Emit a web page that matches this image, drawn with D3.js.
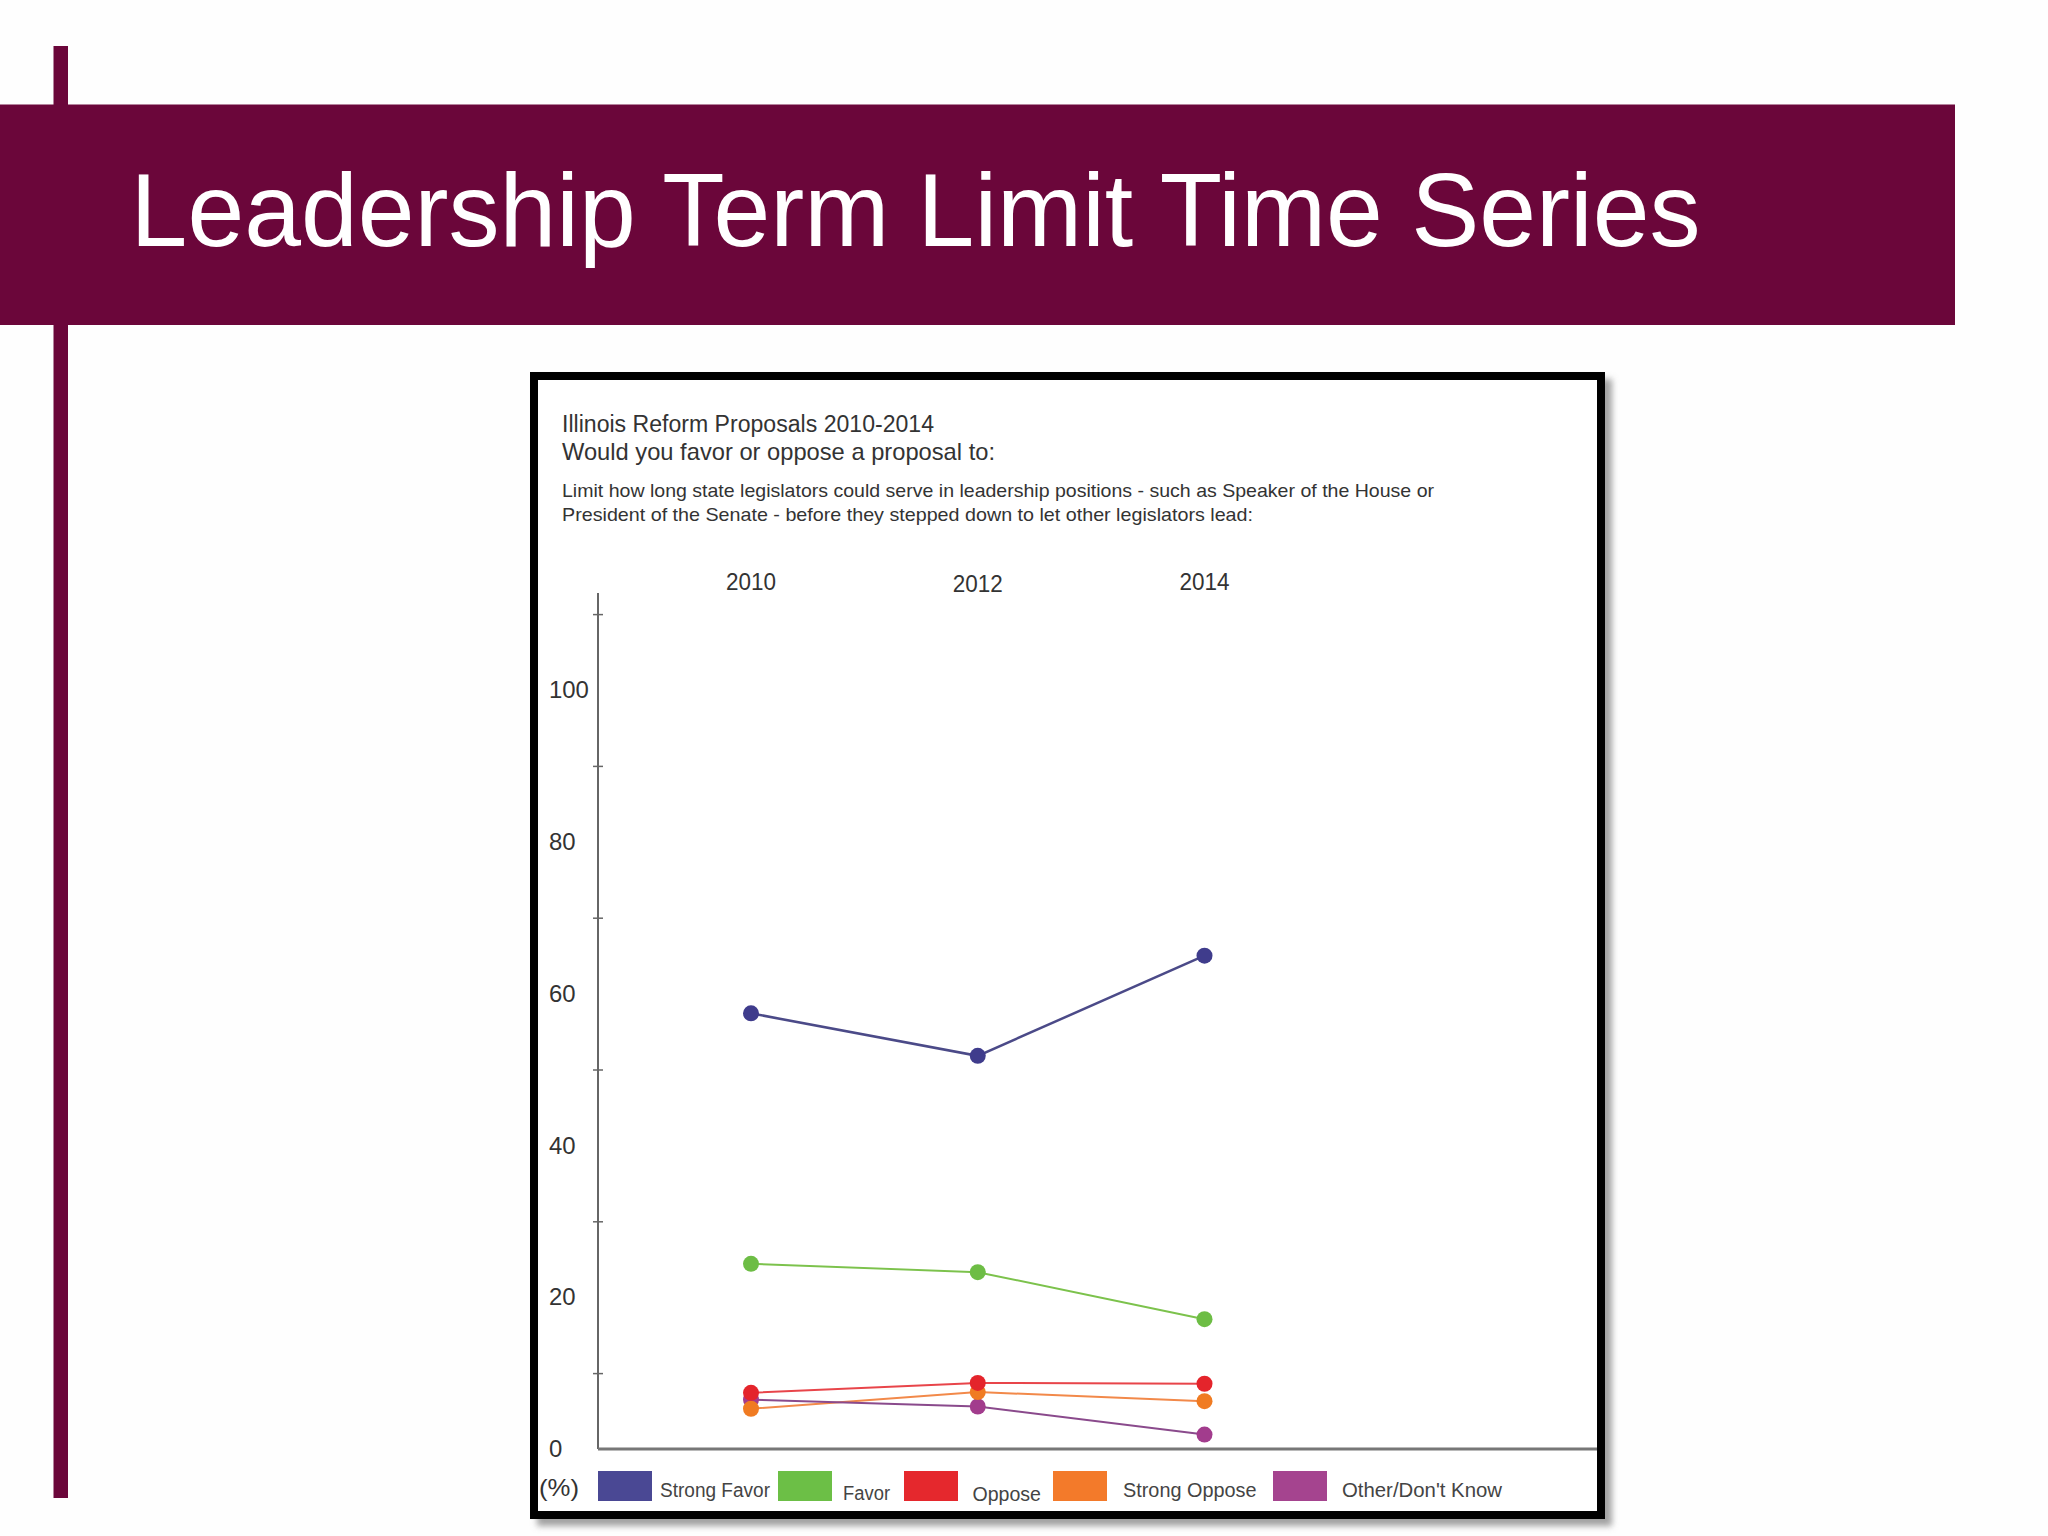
<!DOCTYPE html>
<html>
<head>
<meta charset="utf-8">
<script src="https://cdn.jsdelivr.net/npm/d3@7"></script>
<style>
  body { margin: 0; background: #fefefe; }
  svg { display: block; }
</style>
</head>
<body>
<div id="chart_container"></div>
<script>
// DATA
let years = ["2010", "2012", "2014"];
let seriesNames = ["Strong Favor", "Favor", "Oppose", "Strong Oppose", "Other/Don't Know"];
let strongFavor = [57.4, 51.8, 65.0];
let favor = [24.4, 23.3, 17.1];
let oppose = [7.4, 8.7, 8.6];
let strongOppose = [5.3, 7.5, 6.3];
let otherDontKnow = [6.5, 5.6, 1.9];
let yLabelValues = [0, 20, 40, 60, 80, 100];
let yTickValues = [10, 30, 50, 70, 90, 110];

let slideTitle = "Leadership Term Limit Time Series";
let chartTitle = "Illinois Reform Proposals 2010-2014";
let chartQuestion = "Would you favor or oppose a proposal to:";
let descLines = [
  "Limit how long state legislators could serve in leadership positions - such as Speaker of the House or",
  "President of the Senate - before they stepped down to let other legislators lead:"
];

// styles
let maroon = "#6b063a";
let swatchColors = ["#4a4894", "#6cbf46", "#e5282d", "#f37a2a", "#a5448f"];
let lineColors = ["#4b4a88", "#7cc24c", "#e8454a", "#f2894a", "#8a4a8c"];
let pointColors = ["#3f3c8c", "#6dbd45", "#e4242b", "#f07b22", "#a23c8d"];
// the original uses a condensed face; squeeze Liberation Sans with textLength
let chartFont = "'Liberation Sans', Arial, sans-serif";

let svgWidth = 2048;
let svgHeight = 1536;

let svg = d3.select("#chart_container")
  .append("svg")
  .attr("width", svgWidth)
  .attr("height", svgHeight);

svg.append("rect")
  .attr("width", svgWidth)
  .attr("height", svgHeight)
  .attr("fill", "#fefefe");

// slide decoration
svg.append("rect")
  .attr("x", 53.5).attr("y", 46)
  .attr("width", 14.5).attr("height", 1452)
  .attr("fill", maroon);

svg.append("rect")
  .attr("x", 0).attr("y", 104.5)
  .attr("width", 1955).attr("height", 220.5)
  .attr("fill", maroon);

svg.append("text")
  .attr("x", 130.6)
  .attr("y", 245.5)
  .attr("fill", "#fff")
  .attr("font-family", "'Liberation Sans', Arial, sans-serif")
  .attr("font-size", 104)
  .attr("textLength", 1570)
  .attr("lengthAdjust", "spacingAndGlyphs")
  .text(slideTitle);

// chart frame with shadow
let defs = svg.append("defs");
let shadow = defs.append("filter")
  .attr("id", "shadow")
  .attr("x", "-5%").attr("y", "-5%")
  .attr("width", "115%").attr("height", "115%");
shadow.append("feDropShadow")
  .attr("dx", 7).attr("dy", 7)
  .attr("stdDeviation", 3)
  .attr("flood-color", "#7a7a7a")
  .attr("flood-opacity", 0.7);

svg.append("rect")
  .attr("x", 534).attr("y", 376)
  .attr("width", 1067).attr("height", 1139)
  .attr("fill", "#fff")
  .attr("stroke", "#000")
  .attr("stroke-width", 8)
  .attr("filter", "url(#shadow)");

// header texts
let textColor = "#333";

svg.append("text")
  .attr("x", 562).attr("y", 431.5)
  .attr("font-family", chartFont)
  .attr("font-size", 23)
  .attr("fill", textColor)
  .attr("textLength", 372)
  .attr("lengthAdjust", "spacingAndGlyphs")
  .text(chartTitle);

svg.append("text")
  .attr("x", 562).attr("y", 460)
  .attr("font-family", chartFont)
  .attr("font-size", 24)
  .attr("fill", textColor)
  .attr("textLength", 433)
  .attr("lengthAdjust", "spacingAndGlyphs")
  .text(chartQuestion);

let descLengths = [872, 691];
let descBaselines = [496.5, 521];
descLines.forEach((line, i) => {
  svg.append("text")
    .attr("x", 562).attr("y", descBaselines[i])
    .attr("font-family", chartFont)
    .attr("font-size", 19)
    .attr("fill", textColor)
    .attr("textLength", descLengths[i])
    .attr("lengthAdjust", "spacingAndGlyphs")
    .text(line);
});

// scales
let xScale = d3.scalePoint()
  .domain(years)
  .range([751, 1204.5]);

let yScale = d3.scaleLinear()
  .domain([0, 100])
  .range([1449, 690]);

let axisX = 598;

// year labels on top
svg.selectAll(".year-label")
  .data(years)
  .enter()
  .append("text")
  .attr("class", "year-label")
  .attr("x", d => xScale(d))
  .attr("y", (d, i) => i === 1 ? 592 : 590)
  .attr("text-anchor", "middle")
  .attr("font-family", chartFont)
  .attr("font-size", 24)
  .attr("fill", textColor)
  .attr("textLength", 50)
  .attr("lengthAdjust", "spacingAndGlyphs")
  .text(d => d);

// y axis: ticks at odd tens, line running up past 110
let yAxis = d3.axisLeft(yScale)
  .tickValues(yTickValues)
  .tickSize(5)
  .tickFormat("");

let yAxisG = svg.append("g")
  .attr("transform", "translate(" + axisX + ",0)")
  .call(yAxis);
yAxisG.select(".domain").remove();
yAxisG.selectAll(".tick line")
  .attr("x1", -5).attr("x2", 5)
  .attr("stroke", "#666")
  .attr("stroke-width", 1.5);

svg.append("line")
  .attr("x1", axisX).attr("x2", axisX)
  .attr("y1", 593).attr("y2", yScale(0))
  .attr("stroke", "#666")
  .attr("stroke-width", 2);

// y labels, centred on their values
svg.selectAll(".y-label")
  .data(yLabelValues)
  .enter()
  .append("text")
  .attr("class", "y-label")
  .attr("x", 549)
  .attr("y", d => yScale(d))
  .attr("dy", "0.36em")
  .attr("font-family", chartFont)
  .attr("font-size", 23)
  .attr("fill", textColor)
  .attr("textLength", d => String(d).length * 13.3)
  .attr("lengthAdjust", "spacingAndGlyphs")
  .text(d => d);

// x axis line
svg.append("line")
  .attr("x1", axisX).attr("x2", 1597)
  .attr("y1", yScale(0)).attr("y2", yScale(0))
  .attr("stroke", "#777")
  .attr("stroke-width", 3);

// series
let seriesValues = [strongFavor, favor, oppose, strongOppose, otherDontKnow];
let series = seriesNames.map((name, i) => ({
  name: name,
  index: i,
  points: years.map((year, j) => ({ year: year, value: seriesValues[i][j] }))
}));

let line = d3.line()
  .x(d => xScale(d.year))
  .y(d => yScale(d.value));

let lineWidths = [2.5, 2, 2, 2, 2];

svg.selectAll(".series-line")
  .data(series)
  .enter()
  .append("path")
  .attr("class", "series-line")
  .attr("d", d => line(d.points))
  .attr("fill", "none")
  .attr("stroke", d => lineColors[d.index])
  .attr("stroke-width", d => lineWidths[d.index]);

// draw points so that red sits above the others at the clusters
let pointOrder = [0, 1, 4, 3, 2];
pointOrder.forEach(si => {
  svg.selectAll(".point-" + si)
    .data(series[si].points)
    .enter()
    .append("circle")
    .attr("class", "point point-" + si)
    .attr("cx", d => xScale(d.year))
    .attr("cy", d => yScale(d.value))
    .attr("r", 8)
    .attr("fill", pointColors[si]);
});

// legend
let legendY = 1471;
let legendX = [598, 778, 904, 1053, 1273];
let legendTextX = [660, 843, 972.5, 1123, 1342];
let legendTextLen = [110, 47, 68.5, 133.5, 160];
let legendBaseline = [1497, 1499.5, 1500.5, 1497, 1497];

svg.append("text")
  .attr("x", 539).attr("y", 1496)
  .attr("font-family", chartFont)
  .attr("font-size", 24)
  .attr("fill", textColor)
  .attr("textLength", 40)
  .attr("lengthAdjust", "spacingAndGlyphs")
  .text("(%)");

let legend = svg.selectAll(".legend-item")
  .data(seriesNames)
  .enter()
  .append("g")
  .attr("class", "legend-item");

legend.append("rect")
  .attr("x", (d, i) => legendX[i])
  .attr("y", legendY)
  .attr("width", 54)
  .attr("height", 30)
  .attr("fill", (d, i) => swatchColors[i]);

legend.append("text")
  .attr("x", (d, i) => legendTextX[i])
  .attr("y", (d, i) => legendBaseline[i])
  .attr("font-family", chartFont)
  .attr("font-size", 20)
  .attr("fill", "#444")
  .attr("textLength", (d, i) => legendTextLen[i])
  .attr("lengthAdjust", "spacingAndGlyphs")
  .text(d => d);
</script>
</body>
</html>
